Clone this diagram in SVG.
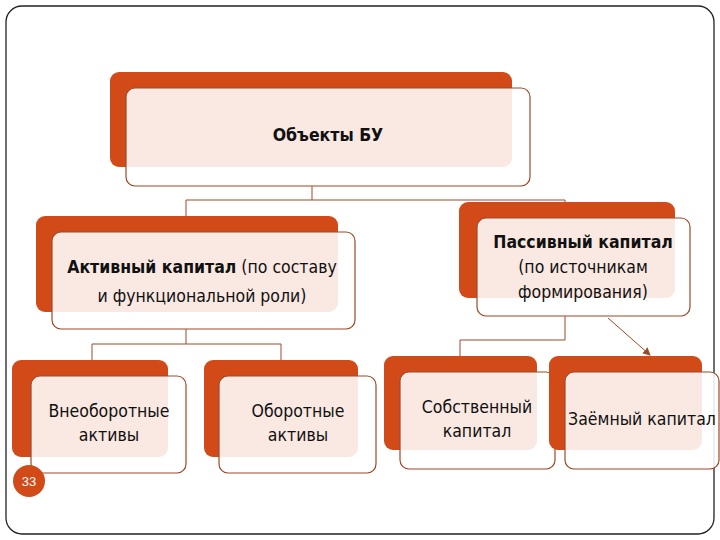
<svg xmlns="http://www.w3.org/2000/svg" width="720" height="540" viewBox="0 0 720 540">
<defs>
<style>
.bk{fill:#d24a17}
.fr{fill:#fff;fill-opacity:0.88;stroke:#9c4a2a;stroke-width:1.2}
.t{font-family:"DejaVu Sans Condensed","Liberation Sans",sans-serif;font-size:17.5px;fill:#111;text-anchor:middle}
.b{font-weight:bold}
.ln{stroke:#9c4a2a;stroke-width:1;fill:none}
</style>
<marker id="ah" markerWidth="8" markerHeight="8" refX="7" refY="4" orient="auto" markerUnits="userSpaceOnUse"><path d="M0,0 L8,4 L0,8 z" fill="#9c4a2a"/></marker>
</defs>
<rect width="720" height="540" fill="#fff"/>
<rect x="6" y="6" width="708" height="528" rx="16" fill="none" stroke="#222" stroke-width="1.3"/>
<g id="connectors">
<path class="ln" d="M312,186 V200 M186,200 H565 M186,200 V216 M565,200 V218"/>
<path class="ln" d="M186,329 V344 M92,344 H281 M92,344 V360 M281,344 V360"/>
<path class="ln" d="M565,316 V340 M460,340 H565 M460,340 V356"/>
<path class="ln" d="M608,318 L650,355" stroke-width="1.5" marker-end="url(#ah)"/>
</g>
<g id="root"><rect class="bk" x="110" y="72" width="402" height="95" rx="9"/><rect class="fr" x="126" y="88" width="404" height="98" rx="9"/><text class="t b" x="328" y="141">Объекты БУ</text></g>
<g id="active"><rect class="bk" x="36" y="216" width="302" height="96" rx="9"/><rect class="fr" x="52" y="232" width="303" height="97" rx="9"/><text class="t" x="202" y="273"><tspan font-weight="bold">Активный капитал</tspan> (по составу</text><text class="t" x="202" y="302">и функциональной роли)</text></g>
<g id="passive"><rect class="bk" x="459" y="202" width="216" height="96" rx="9"/><rect class="fr" x="477" y="218" width="213" height="98" rx="9"/><text class="t b" x="583" y="248">Пассивный капитал</text><text class="t" x="583" y="273">(по источникам</text><text class="t" x="583" y="298">формирования)</text></g>
<g id="noncurrent"><rect class="bk" x="12" y="360" width="156" height="97" rx="9"/><rect class="fr" x="31" y="376" width="155" height="97" rx="9"/><text class="t" x="109" y="417">Внеоборотные</text><text class="t" x="109" y="441">активы</text></g>
<g id="current"><rect class="bk" x="204" y="360" width="154" height="97" rx="9"/><rect class="fr" x="219" y="376" width="157" height="97" rx="9"/><text class="t" x="298" y="417">Оборотные</text><text class="t" x="298" y="441">активы</text></g>
<g id="equity"><rect class="bk" x="384" y="356" width="153" height="94" rx="9"/><rect class="fr" x="400" y="372" width="155" height="97" rx="9"/><text class="t" x="477" y="413">Собственный</text><text class="t" x="477" y="437">капитал</text></g>
<g id="debt"><rect class="bk" x="549" y="356" width="153" height="94" rx="9"/><rect class="fr" x="565" y="372" width="154" height="97" rx="9"/><text class="t" x="642" y="425">Заёмный капитал</text></g>
<g id="pagenum"><circle cx="29" cy="481" r="16" fill="#d24a17"/><text x="29" y="486" font-family="Liberation Sans,sans-serif" font-size="13" fill="#fff" text-anchor="middle">33</text></g>
</svg>
